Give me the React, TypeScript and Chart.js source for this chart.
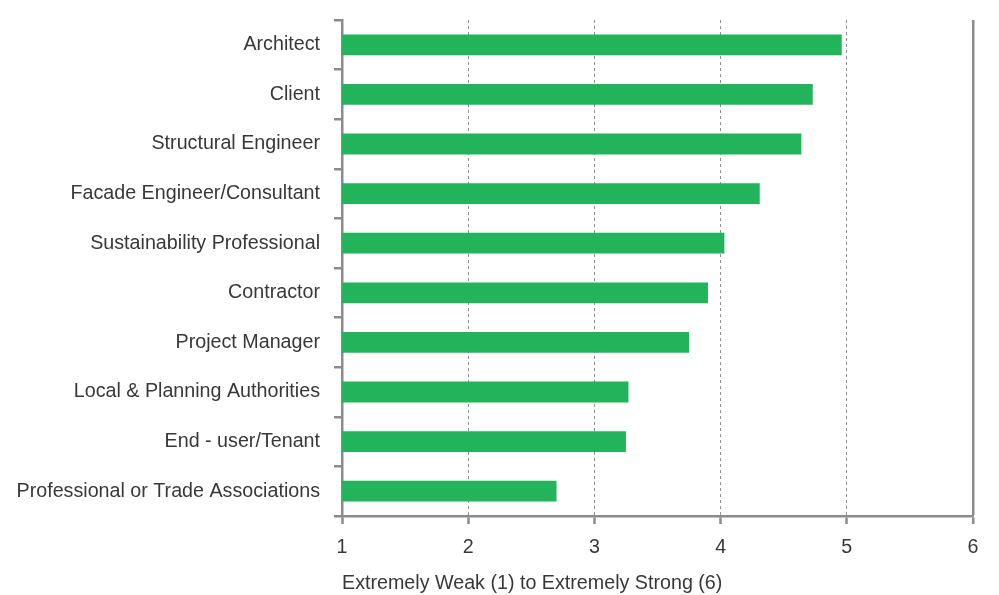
import React, { useEffect, useRef } from "react";
import { Chart, registerables } from "chart.js";

Chart.register(...registerables);

const categories = [
  "Architect",
  "Client",
  "Structural Engineer",
  "Facade Engineer/Consultant",
  "Sustainability Professional",
  "Contractor",
  "Project Manager",
  "Local & Planning Authorities",
  "End - user/Tenant",
  "Professional or Trade Associations",
];
const values = [4.96, 4.73, 4.64, 4.31, 4.03, 3.9, 3.75, 3.27, 3.25, 2.7];
const xMin = 1;
const xMax = 6;
const xTitle = "Extremely Weak (1) to Extremely Strong (6)";

const AXIS = "#8b8b8e";
const TEXT = "#383838";
const FONT = "'Liberation Sans', Arial, sans-serif";
const FS = 19.7;

export default function App() {
  const ref = useRef<HTMLCanvasElement>(null);
  useEffect(() => {
    document.body.style.margin = "0";
    const canvas = ref.current!;
    const chart = new Chart(canvas, {
      type: "bar",
      data: {
        labels: categories,
        datasets: [
          {
            data: values,
            backgroundColor: "#23b35b",
            barPercentage: 0.42,
            categoryPercentage: 1,
          },
        ],
      },
      options: {
        indexAxis: "y",
        animation: false,
        responsive: false,
        maintainAspectRatio: false,
        layout: { padding: { top: 20, right: 26, left: 0, bottom: 0 } },
        plugins: { legend: { display: false }, tooltip: { enabled: false } },
        scales: {
          x: {
            min: xMin,
            max: xMax,
            ticks: {
              stepSize: 1,
              color: TEXT,
              padding: 12,
              font: { family: FONT, size: FS },
            },
            grid: {
              color: (c: any) =>
                c.tick && c.tick.value === xMax
                  ? AXIS
                  : c.tick && c.tick.value === xMin
                  ? "rgba(0,0,0,0)"
                  : "#8f8f8f",
              lineWidth: (c: any) => (c.tick && c.tick.value === xMax ? 2.5 : 1),
              tickColor: AXIS,
              tickWidth: 2.5,
              tickLength: 8,
            },
            border: {
              color: AXIS,
              width: 2.5,
              dash: (c: any) => (c.tick && c.tick.value === xMax ? [] : [3, 3]),
            },
            title: {
              display: true,
              text: xTitle,
              align: "start",
              color: TEXT,
              font: { family: FONT, size: FS },
              padding: { top: 3, bottom: 0 },
            },
            afterFit: (s: any) => {
              s.height = 79;
            },
          },
          y: {
            ticks: {
              color: TEXT,
              padding: 14,
              font: { family: FONT, size: FS },
            },
            grid: {
              offset: true,
              drawOnChartArea: false,
              color: AXIS,
              lineWidth: 2.5,
              tickLength: 8,
            },
            border: { color: AXIS, width: 2.5 },
            afterFit: (s: any) => {
              s.width = 342;
              s.paddingTop = 0;
              s.paddingBottom = 0;
            },
          },
        },
      },
    });
    return () => chart.destroy();
  }, []);
  return <canvas ref={ref} width={999} height={595} style={{ display: "block" }} />;
}
